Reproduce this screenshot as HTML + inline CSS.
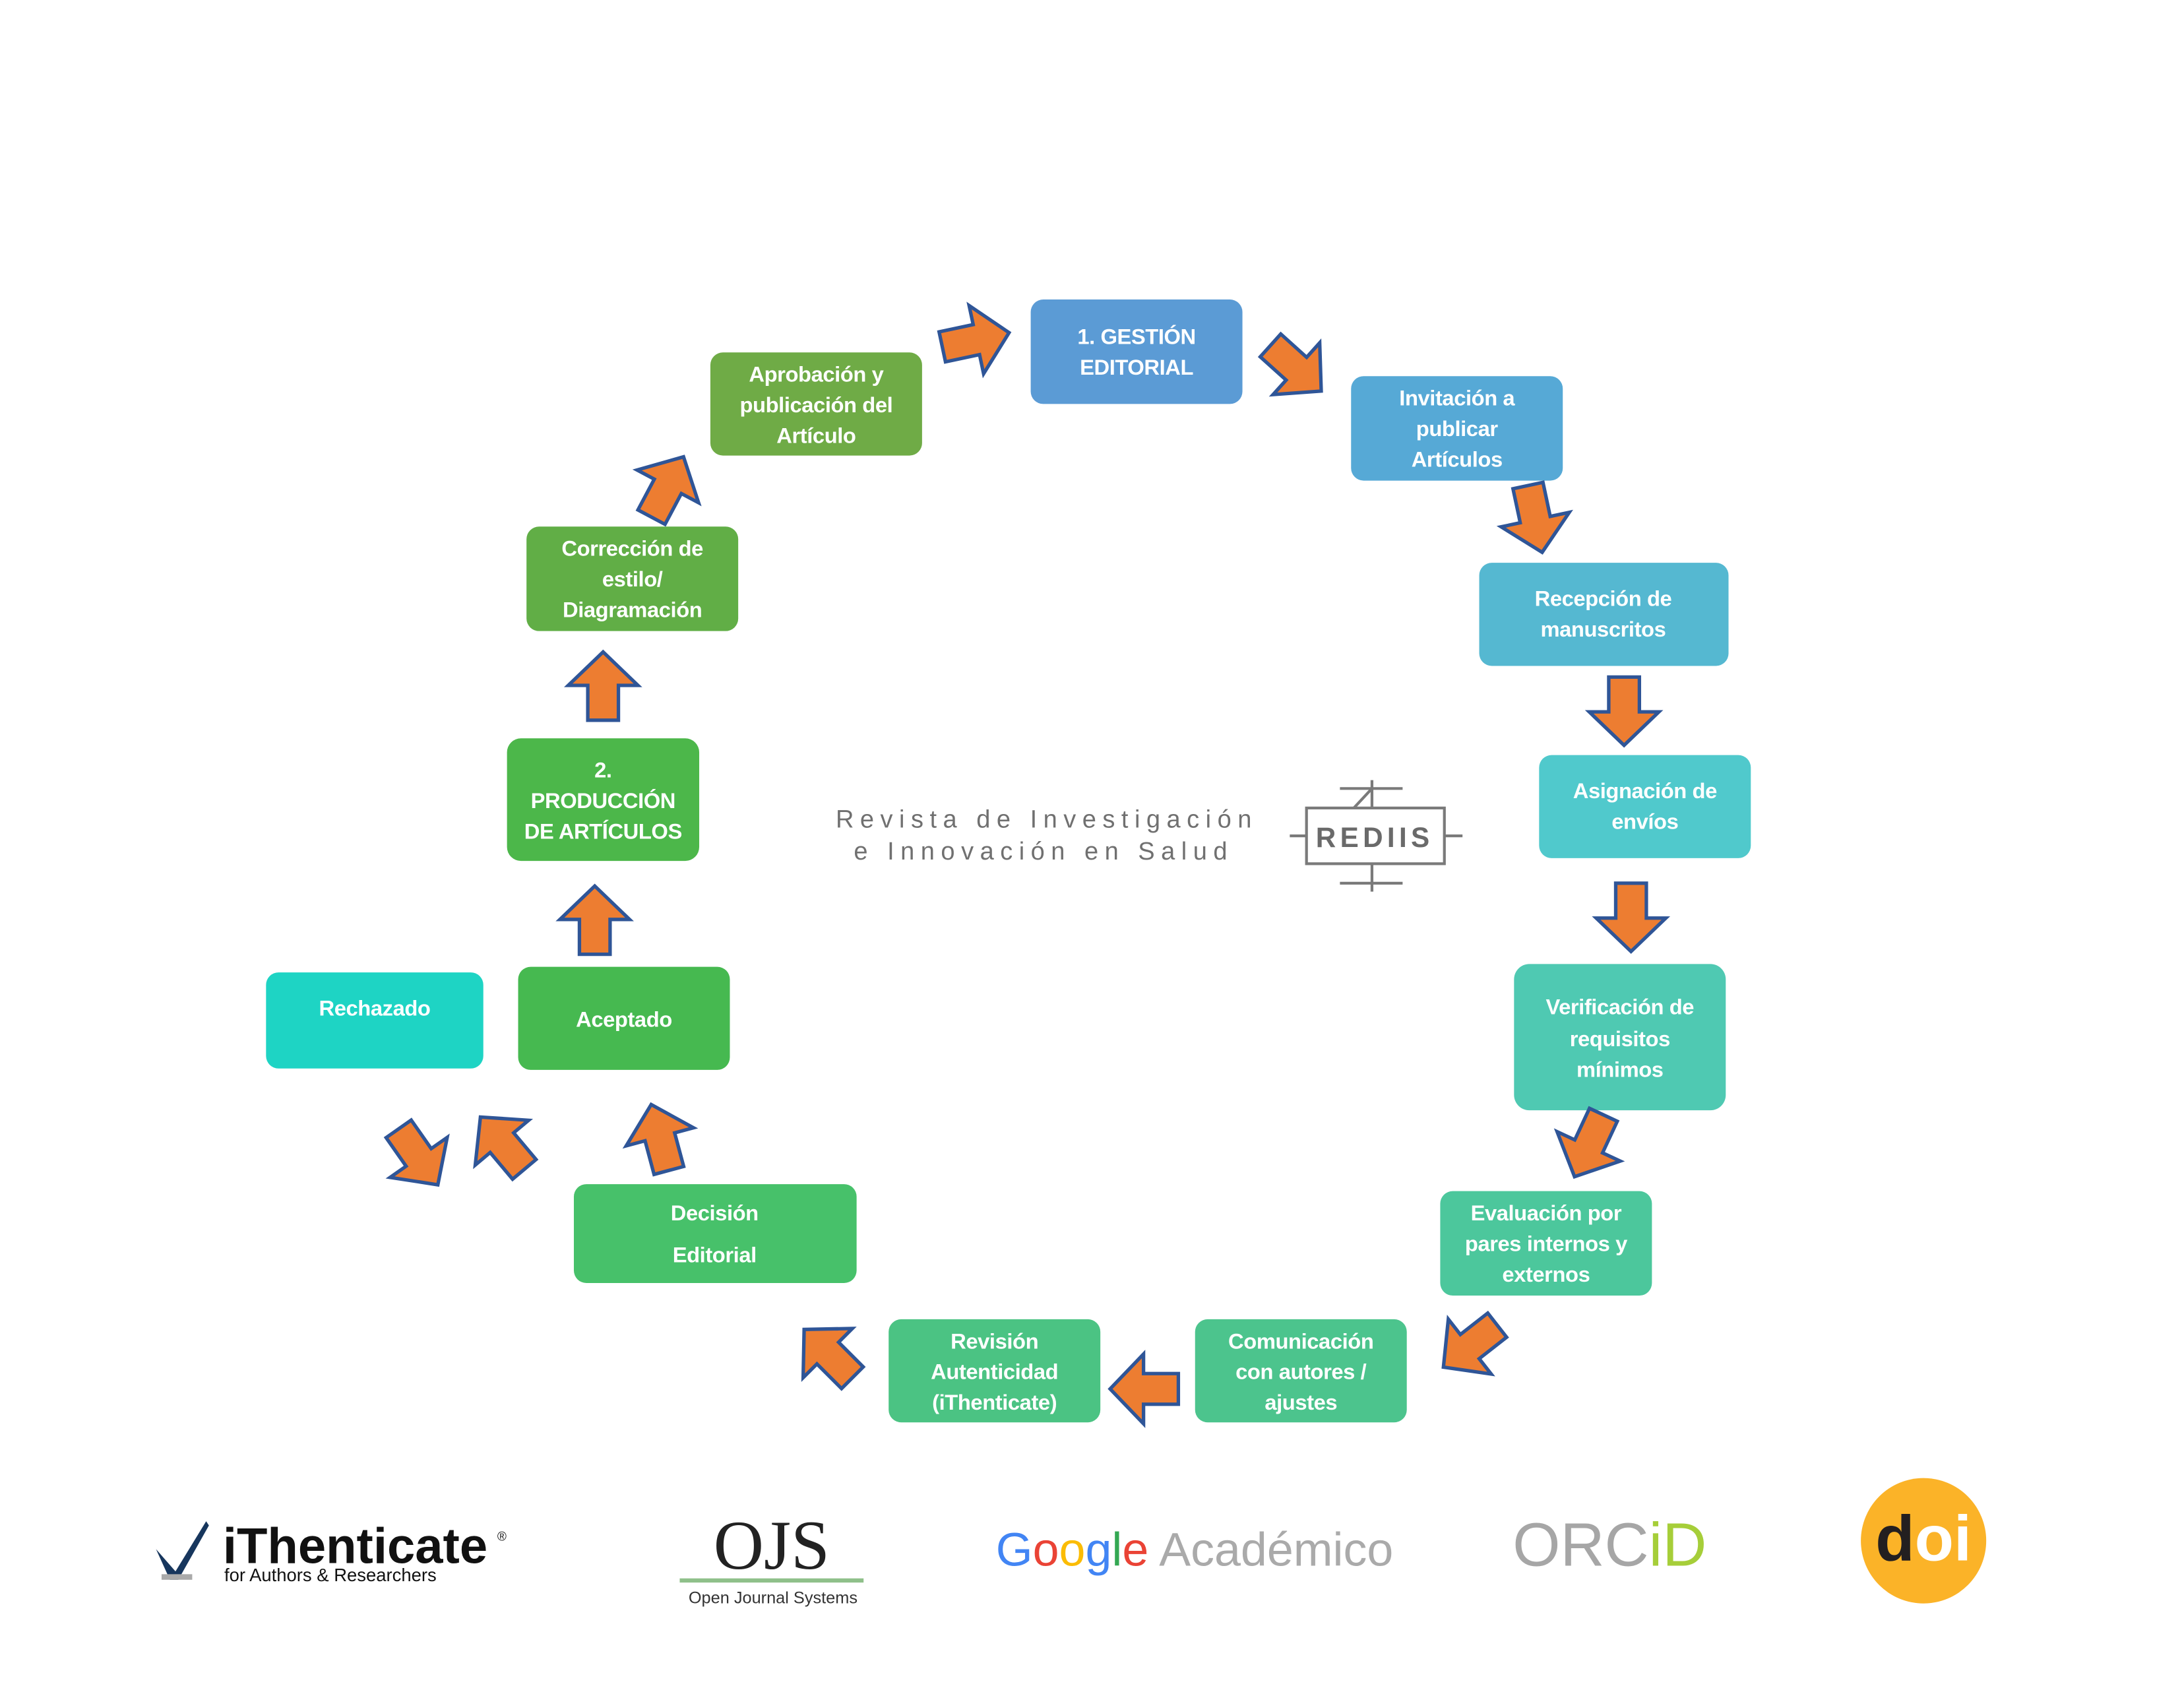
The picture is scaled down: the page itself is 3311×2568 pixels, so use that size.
<!DOCTYPE html>
<html><head><meta charset="utf-8"><style>
html,body{margin:0;padding:0;background:#fff;width:3311px;height:2568px;overflow:hidden}
svg{display:block}
.t{font-family:"Liberation Sans",sans-serif;font-weight:bold;fill:#fff;font-size:15.5px;text-anchor:middle;letter-spacing:-0.2px}
</style></head><body>
<svg width="3311" height="2568" viewBox="0 0 1568 1216" preserveAspectRatio="none" xmlns="http://www.w3.org/2000/svg">
<defs>
<polygon id="ar" points="-24,-11 1,-11 1,-25 25,0 1,25 1,11 -24,11" fill="#ed7d31" stroke="#2f5597" stroke-width="2.5" stroke-linejoin="miter"/>
</defs>
<g>
<rect x="740" y="215" width="152" height="75" rx="9" fill="#5b9bd5"/>
<text class="t" x="816" y="247">1. GESTIÓN</text><text class="t" x="816" y="269">EDITORIAL</text>

<rect x="970" y="270" width="152" height="75" rx="9" fill="#56a9d6"/>
<text class="t" x="1046" y="291">Invitación a</text><text class="t" x="1046" y="313">publicar</text><text class="t" x="1046" y="335">Artículos</text>

<rect x="1062" y="404" width="179" height="74" rx="9" fill="#55b8d1"/>
<text class="t" x="1151" y="435">Recepción de</text><text class="t" x="1151" y="457">manuscritos</text>

<rect x="1105" y="542" width="152" height="74" rx="9" fill="#50c9cc"/>
<text class="t" x="1181" y="573">Asignación de</text><text class="t" x="1181" y="595">envíos</text>

<rect x="1087" y="692" width="152" height="105" rx="11" fill="#4fc9b2"/>
<text class="t" x="1163" y="728">Verificación de</text><text class="t" x="1163" y="751">requisitos</text><text class="t" x="1163" y="773">mínimos</text>

<rect x="1034" y="855" width="152" height="75" rx="9" fill="#4cc79c"/>
<text class="t" x="1110" y="876">Evaluación por</text><text class="t" x="1110" y="898">pares internos y</text><text class="t" x="1110" y="920">externos</text>

<rect x="858" y="947" width="152" height="74" rx="9" fill="#4cc48d"/>
<text class="t" x="934" y="968">Comunicación</text><text class="t" x="934" y="990">con autores /</text><text class="t" x="934" y="1012">ajustes</text>

<rect x="638" y="947" width="152" height="74" rx="9" fill="#4bc383"/>
<text class="t" x="714" y="968">Revisión</text><text class="t" x="714" y="990">Autenticidad</text><text class="t" x="714" y="1012">(iThenticate)</text>

<rect x="412" y="850" width="203" height="71" rx="9" fill="#47c16a"/>
<text class="t" x="513" y="876">Decisión</text><text class="t" x="513" y="906">Editorial</text>

<rect x="372" y="694" width="152" height="74" rx="9" fill="#46b950"/>
<text class="t" x="448" y="737">Aceptado</text>

<rect x="191" y="698" width="156" height="69" rx="9" fill="#1ed4c4"/>
<text class="t" x="269" y="729">Rechazado</text>

<rect x="364" y="530" width="138" height="88" rx="10" fill="#4cb74a"/>
<text class="t" x="433" y="558">2.</text><text class="t" x="433" y="580">PRODUCCIÓN</text><text class="t" x="433" y="602">DE ARTÍCULOS</text>

<rect x="378" y="378" width="152" height="75" rx="9" fill="#61ae46"/>
<text class="t" x="454" y="399">Corrección de</text><text class="t" x="454" y="421">estilo/</text><text class="t" x="454" y="443">Diagramación</text>

<rect x="510" y="253" width="152" height="74" rx="9" fill="#6fab46"/>
<text class="t" x="586" y="274">Aprobación y</text><text class="t" x="586" y="296">publicación del</text><text class="t" x="586" y="318">Artículo</text>
</g>

<g>
<use href="#ar" transform="translate(700,244) rotate(-12)"/>
<use href="#ar" transform="translate(930,264) rotate(42)"/>
<use href="#ar" transform="translate(1102,372) rotate(78)"/>
<use href="#ar" transform="translate(1166,510) rotate(90)"/>
<use href="#ar" transform="translate(1171,658) rotate(90)"/>
<use href="#ar" transform="translate(1141,822) rotate(115)"/>
<use href="#ar" transform="translate(1056,966) rotate(142)"/>
<use href="#ar" transform="translate(822,997) rotate(180)"/>
<use href="#ar" transform="translate(595,972) rotate(-135)"/>
<use href="#ar" transform="translate(474,817) rotate(-105)"/>
<use href="#ar" transform="translate(361,821) rotate(-130)"/>
<use href="#ar" transform="translate(300,830) rotate(55)"/>
<use href="#ar" transform="translate(427,661) rotate(-90)"/>
<use href="#ar" transform="translate(433,493) rotate(-90)"/>
<use href="#ar" transform="translate(479,350) rotate(-62)"/>
</g>

<g font-family="Liberation Sans,sans-serif" fill="#707070" font-size="18" letter-spacing="4.5">
<text x="600" y="594">Revista de Investigación</text>
<text x="613" y="617">e Innovación en Salud</text>
</g>
<g stroke="#7a7a7a" stroke-width="2" fill="none">
<rect x="938" y="580" width="99" height="40"/>
<line x1="926" y1="600" x2="938" y2="600"/><line x1="1037" y1="600" x2="1050" y2="600"/>
<line x1="985" y1="560" x2="985" y2="580"/><line x1="962" y1="566" x2="1007" y2="566"/>
<line x1="985" y1="620" x2="985" y2="640"/><line x1="962" y1="634" x2="1007" y2="634"/>
<line x1="972" y1="580" x2="985" y2="566"/>
</g>
<text x="987" y="608" font-family="Liberation Sans,sans-serif" font-weight="bold" font-size="20" fill="#6a6a6a" text-anchor="middle" letter-spacing="3">REDIIS</text>

<!-- logos -->
<path d="M112 1112 L126 1128 L148 1092 L150 1095 L128 1134 L122 1134 Z" fill="#17365d"/>
<rect x="116" y="1130" width="22" height="4" fill="#aaa"/>
<text x="160" y="1122" font-family="Liberation Sans,sans-serif" font-weight="bold" font-size="36" fill="#111">iThenticate</text>
<text x="357" y="1106" font-family="Liberation Sans,sans-serif" font-size="9" fill="#111">®</text>
<text x="161" y="1135" font-family="Liberation Sans,sans-serif" font-size="13" fill="#111">for Authors &amp; Researchers</text>

<text x="554" y="1126" font-family="Liberation Serif,serif" font-size="50" fill="#222" text-anchor="middle">OJS</text>
<rect x="488" y="1133" width="132" height="3" fill="#8fc08a"/>
<text x="555" y="1151" font-family="Liberation Sans,sans-serif" font-size="12" fill="#333" text-anchor="middle">Open Journal Systems</text>

<text x="715" y="1124" font-family="Liberation Sans,sans-serif" font-size="34"><tspan fill="#4285f4">G</tspan><tspan fill="#ea4335">o</tspan><tspan fill="#fbbc05">o</tspan><tspan fill="#4285f4">g</tspan><tspan fill="#34a853">l</tspan><tspan fill="#ea4335">e</tspan><tspan fill="#aaa"> Académico</tspan></text>

<text x="1086" y="1124" font-family="Liberation Sans,sans-serif" font-size="44" fill="#a6a6a6">ORC<tspan fill="#a6ce39">iD</tspan></text>

<circle cx="1381" cy="1106" r="45" fill="#fbb328"/>
<text x="1381" y="1120" font-family="Liberation Sans,sans-serif" font-weight="bold" font-size="46" fill="#231f20" text-anchor="middle">d<tspan fill="#fff">oi</tspan></text>
</svg>
</body></html>
